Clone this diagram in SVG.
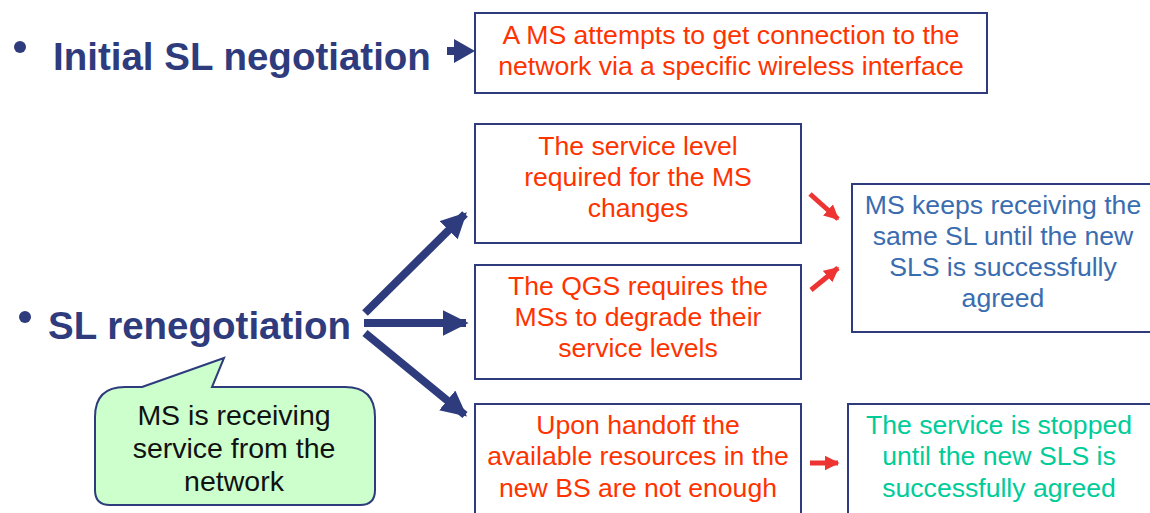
<svg xmlns="http://www.w3.org/2000/svg" width="1150" height="513" viewBox="0 0 1150 513">
<style>
.box{fill:#fff;stroke:#2E3B7C;stroke-width:2}
.t{font-family:"Liberation Sans",Arial,sans-serif;font-size:26.6px;text-anchor:middle}
.red{fill:#FF3300}
.blue{fill:#3A6DB0}
.green{fill:#00CC99}
.blk{fill:#111;font-size:28.5px}
.head{font-family:"Liberation Sans",Arial,sans-serif;font-size:38.5px;font-weight:bold;fill:#2E3B7C}
.nav{stroke:#2E3B7C;stroke-width:8;fill:none}
.rd{stroke:#EE3333;stroke-width:5;fill:none}
</style>
<defs>
<marker id="nh" viewBox="0 0 10 10" refX="9" refY="5" markerWidth="3.2" markerHeight="3.2" orient="auto" markerUnits="strokeWidth"><path d="M0,0 L10,5 L0,10 z" fill="#2E3B7C"/></marker>
<marker id="rh" viewBox="0 0 10 10" refX="9" refY="5" markerWidth="3" markerHeight="3" orient="auto" markerUnits="strokeWidth"><path d="M0,0 L10,5 L0,10 z" fill="#EE3333"/></marker>
</defs>
<g id="bullets">
<circle cx="20" cy="47" r="6" fill="#2E3B7C"/>
<circle cx="25" cy="317" r="6" fill="#2E3B7C"/>
<text class="head" x="53" y="70">Initial SL negotiation</text>
<text class="head" x="48" y="339">SL renegotiation</text>
</g>
<g id="n1"><rect class="box" x="475" y="13" width="512" height="80"/>
<text class="t red" x="731" y="44">A MS attempts to get connection to the</text>
<text class="t red" x="731" y="75">network via a specific wireless interface</text></g>
<g id="n2"><rect class="box" x="475" y="124" width="326" height="119"/>
<text class="t red" x="638" y="155">The service level</text>
<text class="t red" x="638" y="186">required for the MS</text>
<text class="t red" x="638" y="217">changes</text></g>
<g id="n3"><rect class="box" x="475" y="265" width="326" height="114"/>
<text class="t red" x="638" y="295">The QGS requires the</text>
<text class="t red" x="638" y="326">MSs to degrade their</text>
<text class="t red" x="638" y="357">service levels</text></g>
<g id="n4"><rect class="box" x="475" y="404" width="326" height="120"/>
<text class="t red" x="638" y="434">Upon handoff the</text>
<text class="t red" x="638" y="465">available resources in the</text>
<text class="t red" x="638" y="497">new BS are not enough</text></g>
<g id="n5"><rect class="box" x="852" y="184" width="305" height="148"/>
<text class="t blue" x="1003" y="214">MS keeps receiving the</text>
<text class="t blue" x="1003" y="245">same SL until the new</text>
<text class="t blue" x="1003" y="276">SLS is successfully</text>
<text class="t blue" x="1003" y="307">agreed</text></g>
<g id="n6"><rect class="box" x="848" y="404" width="310" height="120"/>
<text class="t green" x="999" y="434">The service is stopped</text>
<text class="t green" x="999" y="465">until the new SLS is</text>
<text class="t green" x="999" y="497">successfully agreed</text></g>
<g id="callout">
<path d="M142,387 L224,358 L212,387 L345,387 Q375,387 375,417 L375,490 Q375,505 360,505 L110,505 Q95,505 95,490 L95,417 Q95,387 125,387 Z" fill="#CCFFCC" stroke="#2E3B7C" stroke-width="2"/>
<text class="t blk" x="234" y="425">MS is receiving</text>
<text class="t blk" x="234" y="458">service from the</text>
<text class="t blk" x="234" y="491">network</text>
</g>
<g id="connectors">
<path d="M447,47 L454,47 L454,39 L475,51 L454,63 L454,55 L447,55 Z" fill="#2E3B7C"/>
<line class="nav" x1="365" y1="313" x2="465" y2="214" marker-end="url(#nh)"/>
<line class="nav" x1="364" y1="323" x2="466" y2="323" marker-end="url(#nh)"/>
<line class="nav" x1="365" y1="333" x2="465" y2="415" marker-end="url(#nh)"/>
<line class="rd" x1="810" y1="194" x2="838" y2="219" marker-end="url(#rh)"/>
<line class="rd" x1="811" y1="290" x2="838" y2="268" marker-end="url(#rh)"/>
<line class="rd" x1="810" y1="463" x2="838" y2="463" marker-end="url(#rh)"/>
</g>
</svg>
